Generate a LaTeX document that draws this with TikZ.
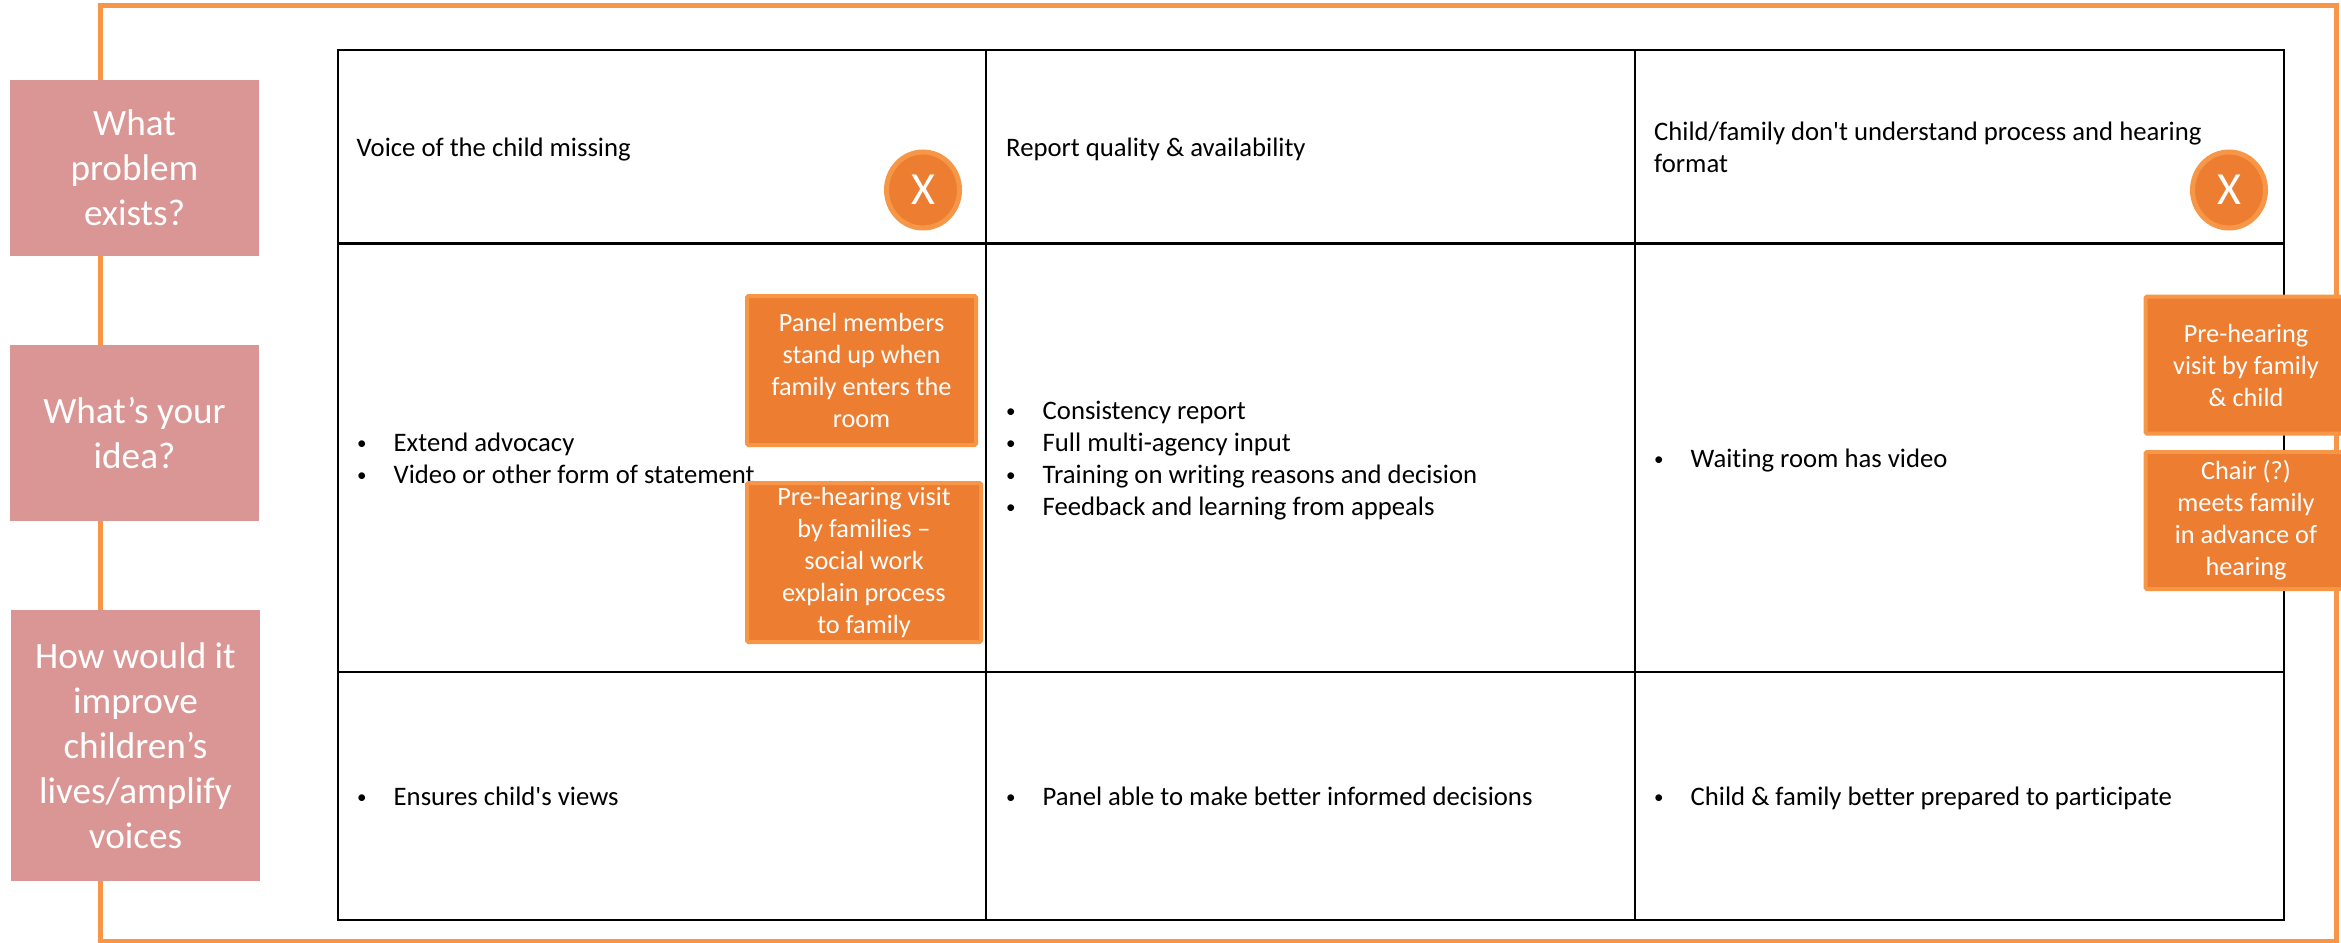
\documentclass[tikz,border=0pt]{standalone}
\usepackage{fontspec}
\setmainfont{Carlito}[Ligatures={TeXOff,CommonOff}]
\usetikzlibrary{shapes.geometric}
\definecolor{framecol}{HTML}{F79646}
\definecolor{fillcol}{HTML}{ED7D31}
\definecolor{pinkcol}{HTML}{D99694}
\tikzset{
  x=1pt,y=-1pt,
  framepath/.style={draw=framecol,line width=5pt},
  tableline/.style={draw=black,line width=2.8pt,line cap=rect},
  question/.style={rectangle,fill=pinkcol,text=white,inner sep=0pt,align=center,minimum width=249pt,
    font=\fontsize{37.2}{45}\selectfont},
  body/.style={anchor=mid west,inner sep=0pt,yshift=-6.5pt,font=\fontsize{26.7}{32}\selectfont,align=left},
  idea/.style={rectangle,draw=framecol,line width=4pt,rounded corners=1.5pt,fill=fillcol,text=white,inner sep=0pt,align=center,
    font=\fontsize{26.3}{32}\selectfont},
  cross/.style={ellipse,draw=framecol,line width=5pt,fill=fillcol,text=white,inner sep=0pt,
    minimum width=73pt,minimum height=76pt,font=\fontsize{46}{50}\selectfont},
}
\newcommand{\bul}{\makebox[36.5pt][l]{\raisebox{2pt}{\fontsize{19}{19}\selectfont •}}}
\begin{document}
\begin{tikzpicture}
\useasboundingbox (0,0) rectangle (2341,942);
\clip (0,0) rectangle (2341,942);
% outer frame
\draw[framepath] (100,6) -- (2336,6) -- (2336,941) -- (100,941) -- cycle;
% table
\draw[tableline] (338,50) rectangle (2284,920);
\draw[tableline] (986,50) -- (986,920);
\draw[tableline] (1635,50) -- (1635,920);
\draw[tableline] (338,243.5) -- (2284,243.5);
\draw[tableline] (338,672) -- (2284,672);
% question boxes
\node[question,minimum height=176pt] (q1) at (134.5,168) {What\\problem\\exists?};
\node[question,minimum height=176pt] (q2) at (134.5,433) {What’s your\\idea?};
\node[question,minimum height=271pt] (q3) at (135.5,745.5) {How would it\\improve\\children’s\\lives/amplify\\voices};
% row 1
\node[body] (t11) at (356.5,148) {Voice of the child missing};
\node[body] (t12) at (1006,148) {Report quality \& availability};
\node[body] (t13) at (1654,164) {Child/family don't understand process and hearing\\format};
% row 2
\node[body] (t21a) at (357,443) {\bul Extend advocacy};
\node[body] (t21b) at (357,475) {\bul Video or other form of statement};
\node[body] (t22a) at (1006,410.5) {\bul Consistency report};
\node[body] (t22b) at (1006,442.5) {\bul Full multi-agency input};
\node[body] (t22c) at (1006,474.5) {\bul Training on writing reasons and decision};
\node[body] (t22d) at (1006,506.5) {\bul Feedback and learning from appeals};
\node[body] (t23) at (1654,458.5) {\bul Waiting room has video};
% row 3
\node[body] (t31) at (357,797) {\bul Ensures child's views};
\node[body] (t32) at (1006,797) {\bul Panel able to make better informed decisions};
\node[body] (t33) at (1654,797) {\bul Child \& family better prepared to participate};
% crosses
\node[cross] (x1) at (923,190) {X};
\node[cross] (x2) at (2229,190) {X};
% idea boxes
\node[idea,minimum width=229pt,minimum height=149pt] (i1) at (861.5,370.5) {Panel members\\stand up when\\family enters the\\room};
\node[idea,minimum width=234pt,minimum height=159pt] (i2) at (864,562.5) {Pre-hearing visit\\by families –\\social work\\explain process\\to family};
\node[idea,minimum width=201pt,minimum height=137pt] (i3) at (2246,365) {Pre-hearing\\visit by family\\\& child};
\node[idea,minimum width=201pt,minimum height=137pt] (i4) at (2246,520.5) {Chair (?)\\meets family\\in advance of\\hearing};
\end{tikzpicture}
\end{document}
